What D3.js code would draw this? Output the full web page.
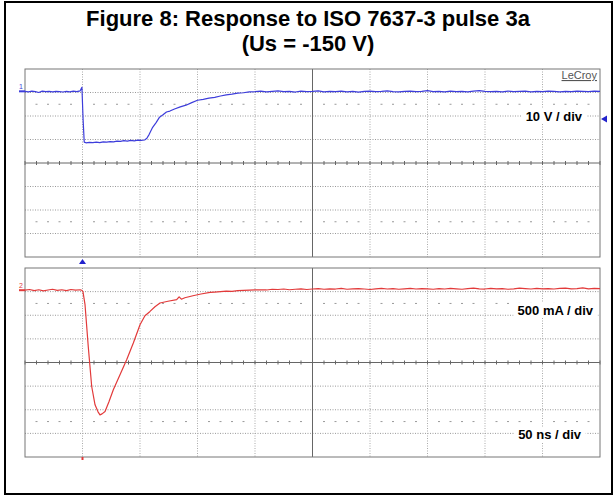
<!DOCTYPE html>
<html>
<head>
<meta charset="utf-8">
<script src="https://cdn.jsdelivr.net/npm/d3@7"></script>
<style>
body { margin: 0; background: #fff; }
svg { display: block; font-family: "Liberation Sans", Arial, sans-serif; }
</style>
</head>
<body>
<div id="chart"></div>
<script>
var titleLines = ["Figure 8: Response to ISO 7637-3 pulse 3a", "(Us = -150 V)"];
var timeTicks = [-50, 0, 50, 100, 150, 200, 250, 300, 350, 400, 450];   // 50 ns / div
var voltLabel = "10 V / div", currLabel = "500 mA / div", timeLabel = "50 ns / div";

// channel 1 : voltage (V) vs time (ns)
var voltTime = [-50, -47, -44, -41, -38, -35, -32, -29, -26, -23, -20, -17, -14, -11, -8, -5, -2, -0.5,
  0.5, 1.5, 3, 6, 9, 12, 15, 18, 21, 24, 27, 30, 33, 36, 39, 42, 45, 48, 51, 54, 56, 58, 61, 64, 67, 70,
  73, 76, 80, 85, 90, 95, 100, 105, 110, 115, 120, 125, 130, 135, 140, 145,
  150, 155, 160, 165, 170, 175, 180, 185, 190, 195, 200, 205, 210, 215, 220, 225, 230, 235, 240, 245,
  250, 255, 260, 265, 270, 275, 280, 285, 290, 295, 300, 305, 310, 315, 320, 325, 330, 335, 340, 345,
  350, 355, 360, 365, 370, 375, 380, 385, 390, 395, 400, 405, 410, 415, 420, 425, 430, 435, 440, 445, 450];
var voltVals = [11.8, 11.6, 11.9, 11.7, 11.3, 11.9, 11.7, 11.8, 11.6, 11.8, 11.7, 11.5, 11.8, 11.6, 11.9, 11.7, 12.0, 13.5,
  0, -9.8, -10.1, -9.9, -10.0, -9.8, -10.0, -9.7, -9.8, -9.6, -9.7, -9.4, -9.5, -9.2, -9.4, -9.1, -9.3, -9.0, -9.1, -8.9, -8.2, -6.5, -3.5, -1.5, 0.8, 1.8,
  3.0, 3.4, 4.3, 5.2, 5.9, 7.0, 8.0, 8.4, 8.9, 9.2, 9.8, 10.3, 10.6, 11.0, 11.2, 11.6,
  11.7, 11.9, 11.6, 11.8, 12.0, 11.7, 11.8, 11.5, 11.9, 11.7, 11.8, 12.0, 11.6, 11.8, 11.7, 11.9, 11.6, 11.8, 11.5, 11.8,
  11.9, 11.7, 11.8, 12.0, 11.7, 11.6, 11.8, 11.9, 11.7, 11.8, 12.1, 11.7, 11.8, 11.6, 11.9, 11.7, 11.8, 11.6, 11.9, 12.1,
  11.8, 11.7, 11.8, 11.6, 11.9, 11.7, 11.8, 11.9, 11.6, 11.8, 11.7, 11.9, 11.8, 11.6, 11.8, 11.7, 11.9, 11.8, 11.7, 11.9, 11.8];

// channel 2 : current (mA) vs time (ns)
var currTime = [-50, -46, -42, -38, -34, -30, -26, -22, -18, -14, -10, -6, -2, -0.7,
  0.4, 2.2, 5, 8, 10.9, 13.5, 15.2, 17, 19.6, 23, 26.8, 32.6, 38.4, 44.2, 50, 54.3, 58.7, 63, 67.4, 74.3,
  81.9, 84, 86, 89, 96, 103, 110.9, 115, 120, 125, 130, 135, 140, 145, 150,
  155, 160, 165, 170, 175, 180, 185, 190, 195, 200, 205, 210, 215, 220, 225, 230, 235, 240, 245,
  250, 255, 260, 265, 270, 275, 280, 285, 290, 295, 300, 305, 310, 315, 320, 325, 330, 335, 340, 345,
  350, 355, 360, 365, 370, 375, 380, 385, 390, 395, 400, 405, 410, 415, 420, 425, 430, 435, 440, 445, 450];
var currVals = [0, 15, -10, 10, -15, 5, 20, -5, 10, -10, 15, 0, 10, 0,
  -30, -307, -1190, -2038, -2426, -2574, -2638, -2617, -2568, -2362, -2108, -1790, -1472, -1119, -731, -540, -449, -350, -271, -233,
  -201, -140, -190, -159, -117, -80, -47, -40, -30, -20, -25, -10, -5, 0, 5,
  10, 5, 20, 15, 25, 10, 20, 30, 15, 25, 35, 20, 30, 25, 40, 20, 30, 35, 25,
  15, 30, 40, 25, 35, 20, 30, 40, 25, 35, 30, 20, 35, 25, 40, 30, 20, 35, 45, 30,
  25, 40, 30, 35, 20, 30, 45, 35, 25, 40, 30, 35, 25, 40, 45, 30, 35, 50, 30, 40, 35];

var width = 615, height = 497;
var left = 25, right = 600;
var panels = [{top: 69, bottom: 257}, {top: 268, bottom: 457}];

var svg = d3.select("#chart").append("svg")
    .attr("width", width)
    .attr("height", height);

// outer frame
svg.append("rect")
    .attr("x", 5).attr("y", 2)
    .attr("width", 607).attr("height", 492)
    .attr("fill", "none")
    .attr("stroke", "#000")
    .attr("stroke-width", 2);

svg.selectAll(".title")
    .data(titleLines)
  .enter().append("text")
    .attr("class", "title")
    .attr("x", 308)
    .attr("y", function(d, i) { return 26 + i * 25; })
    .attr("text-anchor", "middle")
    .attr("font-size", 22)
    .attr("font-weight", "bold")
    .text(function(d) { return d; });

var x = d3.scaleLinear().domain([-50, 450]).range([left, right]);
var yV = d3.scaleLinear().domain([-58.7, 21.3]).range([panels[0].bottom, panels[0].top]);
var yI = d3.scaleLinear().domain([-3530, 470]).range([panels[1].bottom, panels[1].top]);

function drawGrid(p) {
  var g = svg.append("g");
  var div = d3.scaleLinear().domain([0, 8]).range([p.bottom, p.top]);
  var minor = d3.range(-50, 451, 10);

  d3.range(1, 8).forEach(function(k) {
    g.append("line")
      .attr("x1", left).attr("x2", right)
      .attr("y1", div(k)).attr("y2", div(k))
      .attr("stroke", k == 4 ? "#666" : "#999")
      .attr("stroke-dasharray", k == 4 ? null : "1,1.5");
  });
  timeTicks.slice(1, -1).forEach(function(t) {
    g.append("line")
      .attr("x1", x(t)).attr("x2", x(t))
      .attr("y1", p.top).attr("y2", p.bottom)
      .attr("stroke", t == 200 ? "#666" : "#aaa")
      .attr("stroke-dasharray", t == 200 ? null : "1,1.5");
  });
  // minor ticks on the centre line
  g.selectAll(".tk").data(minor).enter().append("line")
    .attr("x1", function(d) { return x(d); }).attr("x2", function(d) { return x(d); })
    .attr("y1", div(4) - 2).attr("y2", div(4) + 2)
    .attr("stroke", "#666");
  // dash rows at +/- 2.5 div
  [1.5, 6.5].forEach(function(k) {
    g.selectAll(".dr" + k * 10).data(minor.filter(function(d) { return (d + 50) % 50 != 0; }))
      .enter().append("line")
      .attr("x1", function(d) { return x(d) - 1; }).attr("x2", function(d) { return x(d) + 1; })
      .attr("y1", div(k)).attr("y2", div(k))
      .attr("stroke", "#999");
  });
  g.append("rect")
    .attr("x", left).attr("y", p.top)
    .attr("width", right - left).attr("height", p.bottom - p.top)
    .attr("fill", "none")
    .attr("stroke", "#777");
}
panels.forEach(drawGrid);

function label(txt, xr, yb) {
  var t = svg.append("text")
    .attr("x", xr).attr("y", yb)
    .attr("text-anchor", "end")
    .attr("font-size", 13)
    .attr("font-weight", "bold")
    .text(txt);
  var b = t.node().getBBox();
  svg.insert("rect", function() { return t.node(); })
    .attr("x", b.x - 4).attr("y", b.y)
    .attr("width", b.width + 8).attr("height", b.height)
    .attr("fill", "#fff");
}
label(voltLabel, 582, 121);
label(currLabel, 593, 315);
label(timeLabel, 581, 439);

svg.append("text")
    .attr("x", 597).attr("y", 79)
    .attr("text-anchor", "end")
    .attr("font-size", 11)
    .attr("fill", "#555")
    .attr("text-decoration", "underline")
    .text("LeCroy");

var blue = "#3d3ddb", red = "#e23a3a";

var lineV = d3.line()
    .x(function(d, i) { return x(voltTime[i]); })
    .y(function(d) { return yV(d); });
var lineI = d3.line()
    .x(function(d, i) { return x(currTime[i]); })
    .y(function(d) { return yI(d); });

svg.append("path")
    .datum(voltVals)
    .attr("fill", "none")
    .attr("stroke", blue)
    .attr("stroke-width", 1.2)
    .attr("stroke-linejoin", "round")
    .attr("d", lineV);

svg.append("path")
    .datum(currVals)
    .attr("fill", "none")
    .attr("stroke", red)
    .attr("stroke-width", 1.2)
    .attr("stroke-linejoin", "round")
    .attr("d", lineI);

// channel markers at the left
[[voltVals[0], yV, blue, "1"], [currVals[0], yI, red, "2"]].forEach(function(m) {
  var yy = m[1](m[0]);
  svg.append("line")
    .attr("x1", 19).attr("x2", left)
    .attr("y1", yy).attr("y2", yy)
    .attr("stroke", m[2]).attr("stroke-width", 2);
  svg.append("text")
    .attr("x", 19).attr("y", yy - 2)
    .attr("font-size", 7)
    .attr("fill", m[2])
    .text(m[3]);
});

// trigger marker, ground marker
var tx = x(0);
svg.append("path")
    .attr("d", "M" + tx + "," + 259 + "l-3.5,5h7z")
    .attr("fill", "#2222cc");
svg.append("path")
    .attr("d", "M" + (right + 1) + "," + yV(0) + "l6,-3.5v7z")
    .attr("fill", "#2222cc");
svg.append("line")
    .attr("x1", tx).attr("x2", tx)
    .attr("y1", panels[1].bottom).attr("y2", panels[1].bottom + 3)
    .attr("stroke", red).attr("stroke-width", 2);
</script>
</body>
</html>
